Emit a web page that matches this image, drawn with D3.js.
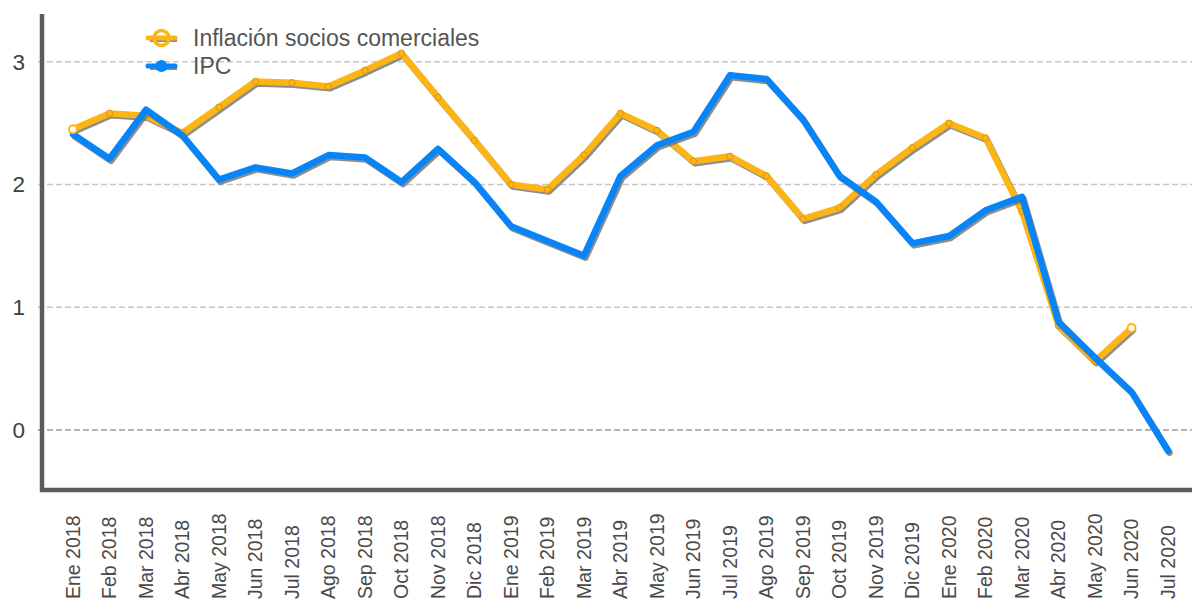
<!DOCTYPE html>
<html>
<head>
<meta charset="utf-8">
<script src="https://cdn.jsdelivr.net/npm/d3@7"></script>
<style>
  html, body { margin: 0; padding: 0; background: #fff; }
  svg { display: block; }
  text { font-family: "Liberation Sans", Arial, sans-serif; font-weight: normal; }
</style>
</head>
<body>
<svg id="chart" width="1192" height="601"></svg>
<script>
// ---- data ----
const months = ["Ene 2018","Feb 2018","Mar 2018","Abr 2018","May 2018","Jun 2018","Jul 2018","Ago 2018","Sep 2018","Oct 2018","Nov 2018","Dic 2018",
  "Ene 2019","Feb 2019","Mar 2019","Abr 2019","May 2019","Jun 2019","Jul 2019","Ago 2019","Sep 2019","Oct 2019","Nov 2019","Dic 2019",
  "Ene 2020","Feb 2020","Mar 2020","Abr 2020","May 2020","Jun 2020","Jul 2020"];
const inflacionSocios = [2.45,2.58,2.56,2.42,2.63,2.84,2.83,2.80,2.93,3.07,2.71,2.36,
  2.00,1.96,2.24,2.58,2.44,2.19,2.23,2.07,1.72,1.81,2.08,2.30,
  2.50,2.38,1.78,0.85,0.56,0.83];
const ipc = [2.41,2.21,2.61,2.40,2.04,2.14,2.09,2.24,2.22,2.02,2.29,2.02,
  1.66,1.54,1.42,2.07,2.32,2.43,2.89,2.86,2.53,2.07,1.86,1.52,
  1.58,1.79,1.90,0.88,0.59,0.31,-0.17];
const yTicks = [0,1,2,3];
const seriesNames = ["Inflación socios comerciales","IPC"];
const colors = ["#FDB515","#0784F8"];

// ---- layout ----
const svg = d3.select("#chart");
const W = 1192, H = 601;
const axisX = 42, axisTop = 14, axisBottom = 490;

const x = d3.scalePoint().domain(months).range([73, 1168]);
const y = d3.scaleLinear().domain([-0.49, 3.39]).range([axisBottom, axisTop]);

// gridlines
svg.append("g").selectAll("line").data(yTicks).join("line")
  .attr("x1", axisX - 4).attr("x2", W)
  .attr("y1", d => y(d)).attr("y2", d => y(d))
  .attr("stroke", d => d === 0 ? "#9a9a9a" : "#c8c8c8")
  .attr("stroke-width", 1.5)
  .attr("stroke-dasharray", "6,3");

// y tick labels via axis
const yAxis = svg.append("g").attr("transform", `translate(${axisX - 18},0)`)
  .call(d3.axisLeft(y).tickValues(yTicks).tickSize(0).tickFormat(d3.format("d")));
yAxis.select(".domain").remove();
yAxis.selectAll("text").attr("font-size", 22.5).attr("fill", "#404040")
  .attr("font-family", "Liberation Sans, Arial, sans-serif").attr("x", 1);

// x axis labels via axis
const xAxis = svg.append("g").attr("transform", `translate(0,${axisBottom})`)
  .call(d3.axisBottom(x).tickSize(0));
xAxis.select(".domain").remove();
xAxis.selectAll("text")
  .attr("font-size", 19.5).attr("fill", "#4a4a4a")
  .attr("font-family", "Liberation Sans, Arial, sans-serif")
  .attr("font-weight", "normal")
  .attr("text-anchor", "start")
  .attr("x", 0).attr("y", 0).attr("dy", 0)
  .attr("transform", "translate(6,109) rotate(-90)");

// axis lines
svg.append("line").attr("x1", axisX).attr("x2", axisX).attr("y1", axisTop).attr("y2", axisBottom + 2)
  .attr("stroke", "#5b5c5b").attr("stroke-width", 4.5);
svg.append("line").attr("x1", axisX - 2).attr("x2", W).attr("y1", axisBottom).attr("y2", axisBottom)
  .attr("stroke", "#5b5c5b").attr("stroke-width", 4.5);

// lines
const line = d3.line().x((d, i) => x(months[i])).y(d => y(d));
const data = [inflacionSocios, ipc];
const markerStroke = ["#d9960a", "#0568c8"];

data.forEach((vals, si) => {
  const g = svg.append("g");
  // shadow
  g.append("path").datum(vals).attr("d", line)
    .attr("transform", "translate(1.5,2)")
    .attr("fill", "none").attr("stroke", "#707070").attr("stroke-opacity", 0.8)
    .attr("stroke-width", 6.5).attr("stroke-linecap", "round").attr("stroke-linejoin", "round");
  g.append("path").datum(vals).attr("d", line)
    .attr("fill", "none").attr("stroke", colors[si])
    .attr("stroke-width", 6.5).attr("stroke-linecap", "round").attr("stroke-linejoin", "round");
  if (si === 0) {
    g.selectAll("circle").data(vals).join("circle")
      .attr("cx", (d, i) => x(months[i])).attr("cy", d => y(d))
      .attr("r", 3.2).attr("fill", colors[si]).attr("stroke", markerStroke[si]).attr("stroke-width", 1);
  }
});

// endpoint hollow markers for first series
[0, inflacionSocios.length - 1].forEach(i => {
  svg.append("circle").attr("cx", x(months[i])).attr("cy", y(inflacionSocios[i]))
    .attr("r", 4).attr("fill", "#fff").attr("stroke", colors[0]).attr("stroke-width", 2);
});

// legend
const legend = svg.append("g");
const legY = [38, 66];
seriesNames.forEach((name, si) => {
  const row = legend.append("g").attr("transform", `translate(0,${legY[si]})`);
  row.append("line").attr("x1", 149).attr("x2", 176).attr("y1", 1.5).attr("y2", 1.5)
    .attr("stroke", "#8a8a8a").attr("stroke-width", 5).attr("transform", "translate(1,0)");
  row.append("line").attr("x1", 148).attr("x2", 175).attr("y1", 0).attr("y2", 0)
    .attr("stroke", colors[si]).attr("stroke-width", 5).attr("stroke-linecap", "round");
  if (si === 0) {
    row.append("circle").attr("cx", 161.5).attr("cy", 0).attr("r", 7.5)
      .attr("fill", "none").attr("stroke", colors[si]).attr("stroke-width", 3.5);
  } else {
    row.append("circle").attr("cx", 161.5).attr("cy", 0).attr("r", 6)
      .attr("fill", colors[si]);
  }
  row.append("text").attr("x", 193).attr("y", 0).attr("dy", "0.36em")
    .attr("font-size", 23).attr("fill", "#555")
    .text(name);
});
</script>
</body>
</html>
